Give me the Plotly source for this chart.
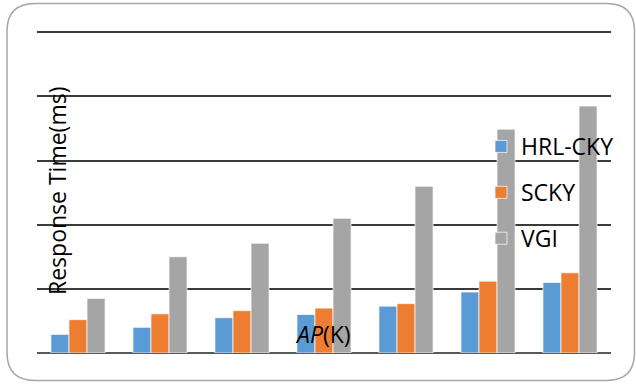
import plotly.graph_objects as go

categories = ["1", "2", "3", "4", "5", "6", "7"]
hrl_cky = [0.29, 0.40, 0.55, 0.60, 0.73, 0.95, 1.10]
scky = [0.52, 0.61, 0.66, 0.70, 0.77, 1.12, 1.25]
vgi = [0.85, 1.50, 1.71, 2.10, 2.60, 3.49, 3.85]
series_names = ["HRL-CKY", "SCKY", "VGI"]
colors = ["#5B9BD5", "#ED7D31", "#A5A5A5"]

W, H = 636, 384
L, R, T, B = 37, 25, 31, 31
PW, PH = W - L - R, H - T - B


def px(x):
    return (x - L) / PW


def py(y):
    return (H - B - y) / PH


FONT = "Open Sans"

fig = go.Figure()
for i, (name, vals) in enumerate(zip(series_names, [hrl_cky, scky, vgi])):
    fig.add_trace(go.Bar(
        x=categories, y=vals, name=name, legendgroup=name,
        marker=dict(color=colors[i], line=dict(color="rgba(255,255,255,0.7)", width=1)),
    ))

# rounded border
x0, x1, y0, y1, r = 7, 634.5, 3.5, 380.5, 28
path = (
    f"M {px(x0 + r)},{py(y0)} L {px(x1 - r)},{py(y0)} "
    f"Q {px(x1)},{py(y0)} {px(x1)},{py(y0 + r)} "
    f"L {px(x1)},{py(y1 - r)} Q {px(x1)},{py(y1)} {px(x1 - r)},{py(y1)} "
    f"L {px(x0 + r)},{py(y1)} Q {px(x0)},{py(y1)} {px(x0)},{py(y1 - r)} "
    f"L {px(x0)},{py(y0 + r)} Q {px(x0)},{py(y0)} {px(x0 + r)},{py(y0)} Z"
)
fig.add_shape(type="path", path=path, xref="paper", yref="paper",
              line=dict(color="#A6A6A6", width=1.5), layer="below")

fig.add_annotation(text="Response Time(ms)", textangle=-90, xref="paper", yref="paper",
                   x=px(57), y=py(191), xanchor="center", yanchor="middle", showarrow=False,
                   font=dict(family=FONT, size=23, color="#000000"))
fig.add_annotation(text="<i>AP</i>(K)", xref="paper", yref="paper",
                   x=px(323), y=py(334), xanchor="center", yanchor="middle", showarrow=False,
                   font=dict(family=FONT, size=23, color="#000000"))

fig.update_layout(
    width=W, height=H,
    margin=dict(l=L, r=R, t=T, b=B),
    paper_bgcolor="white", plot_bgcolor="white",
    barmode="group", bargap=0.34, bargroupgap=0,
    font=dict(family=FONT, size=23, color="#000000"),
    showlegend=True,
    legend=dict(x=px(481), y=py(125), xanchor="left", yanchor="top",
                bgcolor="rgba(0,0,0,0)", tracegroupgap=13,
                font=dict(family=FONT, size=23, color="#000000")),
    xaxis=dict(showticklabels=False, ticks="", showgrid=False, zeroline=False, showline=False),
    yaxis=dict(range=[0, 5.02], dtick=1, showticklabels=False, ticks="", showgrid=True,
               gridcolor="#3A3A3A", gridwidth=1.5, zeroline=True, zerolinecolor="#595959",
               zerolinewidth=2, showline=False),
)

fig.write_html("out.html")
